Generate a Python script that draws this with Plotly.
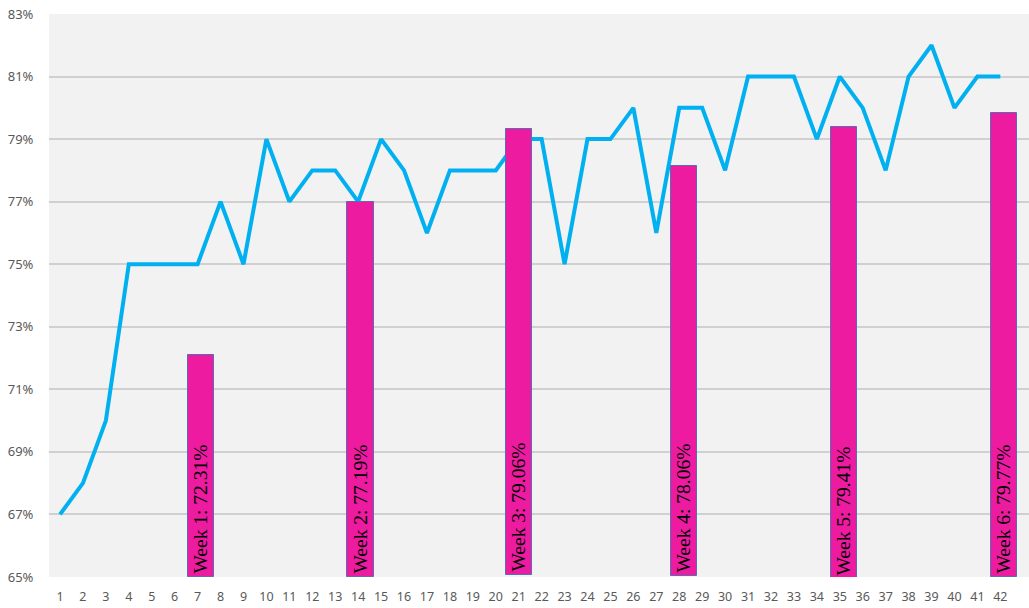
import plotly.graph_objects as go

days = list(range(1, 43))
daily_pct = [67, 68, 70, 75, 75, 75, 75, 77, 75, 79,
             77, 78, 78, 77, 79, 78, 76, 78, 78, 78,
             79, 79, 75, 79, 79, 80, 76, 80, 80, 78,
             81, 81, 81, 79, 81, 80, 78, 81, 82, 80,
             81, 81]

week_x = [7.15, 14.1, 21.02, 28.2, 35.17, 42.15]
week_top = [72.1, 77.0, 79.32, 78.15, 79.38, 79.83]
week_base = [65.0, 65.0, 65.08, 65.03, 64.95, 65.0]
week_labels = ["Week 1: 72.31%", "Week 2: 77.19%", "Week 3: 79.06%",
               "Week 4: 78.06%", "Week 5: 79.41%", "Week 6: 79.77%"]

y_ticks = [65, 67, 69, 71, 73, 75, 77, 79, 81, 83]
y_ticktext = [f"{v}%" for v in y_ticks]

x_range = [0.52, 43.25]
y_range = [65, 83]

serif = dict(family="Liberation Serif, Times New Roman, serif", size=19.5, color="#000000")

fig = go.Figure()

fig.add_trace(go.Scatter(
    x=days, y=daily_pct, mode="lines",
    line=dict(color="#00B0F0", width=4),
    xaxis="x", yaxis="y", showlegend=False, hoverinfo="skip",
))

fig.add_trace(go.Bar(
    x=week_x, y=[t - b for t, b in zip(week_top, week_base)], base=week_base,
    width=1.15,
    marker=dict(color="#EC1BA0", line=dict(color="#5B6BB5", width=1)),
    text=week_labels, textposition="inside", insidetextanchor="start",
    textangle=-90,
    textfont=serif, insidetextfont=serif,
    xaxis="x2", yaxis="y2", showlegend=False, hoverinfo="skip",
))

fig.update_layout(
    width=1029, height=608,
    margin=dict(l=49, r=0, t=14, b=31),
    paper_bgcolor="#FFFFFF",
    plot_bgcolor="#F2F2F2",
    font=dict(family="Noto Sans, Open Sans, sans-serif", size=12, color="#595959"),
    uniformtext=dict(mode="show", minsize=19.5),
    xaxis=dict(
        range=x_range, tickmode="array", tickvals=days,
        ticktext=[str(d) for d in days],
        showgrid=False, zeroline=False, showline=False,
        ticks="outside", ticklen=8, tickcolor="rgba(0,0,0,0)",
        tickfont=dict(size=12.5, color="#595959"),
    ),
    yaxis=dict(
        range=y_range, tickmode="array", tickvals=y_ticks, ticktext=y_ticktext,
        showgrid=True, gridcolor="#D0D0D0", gridwidth=1.5,
        zeroline=False, showline=False,
        ticks="outside", ticklen=12, tickcolor="rgba(0,0,0,0)",
        tickfont=dict(size=13, color="#595959"),
    ),
    xaxis2=dict(range=x_range, overlaying="x", visible=False),
    yaxis2=dict(range=y_range, overlaying="y", visible=False),
    bargap=0,
)

fig.write_html("out.html")
